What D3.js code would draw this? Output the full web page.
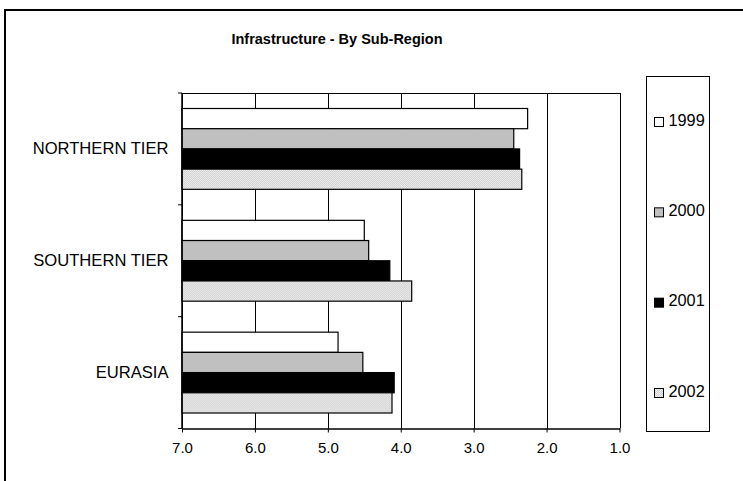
<!DOCTYPE html>
<html>
<head>
<meta charset="utf-8">
<script src="https://cdn.jsdelivr.net/npm/d3@7"></script>
<style>
  html, body { margin: 0; padding: 0; background: #fff; }
  svg { display: block; font-family: Arial, "Liberation Sans", sans-serif; }
</style>
</head>
<body>
<svg id="chart" width="743" height="481"></svg>
<script>
// Infrastructure scores by sub-region (lower is better; axis runs 7.0 -> 1.0)
const regions = ["NORTHERN TIER", "SOUTHERN TIER", "EURASIA"];
const years = ["1999", "2000", "2001", "2002"];
const scores1999 = [2.26, 4.50, 4.86];
const scores2000 = [2.45, 4.44, 4.52];
const scores2001 = [2.37, 4.15, 4.09];
const scores2002 = [2.34, 3.85, 4.12];
const tickValues = [7.0, 6.0, 5.0, 4.0, 3.0, 2.0, 1.0];

const seriesValues = [scores1999, scores2000, scores2001, scores2002];
const fills = ["#ffffff", "#c0c0c0", "#000000", "url(#dots)"];

const svg = d3.select("#chart");

// dithered light-grey fill used for 2002
const defs = svg.append("defs");
const pat = defs.append("pattern")
  .attr("id", "dots").attr("width", 2).attr("height", 2)
  .attr("patternUnits", "userSpaceOnUse");
pat.append("rect").attr("width", 2).attr("height", 2).attr("fill", "#ebebeb");
pat.append("rect").attr("width", 1).attr("height", 1).attr("fill", "#d2d2d2");
pat.append("rect").attr("x", 1).attr("y", 1).attr("width", 1).attr("height", 1).attr("fill", "#d2d2d2");

// outer chart frame
svg.append("rect")
  .attr("x", 5).attr("y", 10).attr("width", 800).attr("height", 520)
  .attr("fill", "none").attr("stroke", "#000").attr("stroke-width", 2);

// title
svg.append("text")
  .attr("x", 337).attr("y", 43.5)
  .attr("text-anchor", "middle")
  .attr("font-size", "14.5px").attr("font-weight", "bold")
  .text("Infrastructure - By Sub-Region");

const plot = { left: 182, right: 619.5, top: 93, bottom: 428.5 };

const x = d3.scaleLinear().domain([7, 1]).range([plot.left, plot.right]);
const y = d3.scaleBand().domain(regions).range([plot.top, plot.bottom]).padding(0);
const pad = 15.5;
const ySub = d3.scaleBand().domain(years).range([pad, y.bandwidth() - pad]).padding(0);

// vertical gridlines
svg.append("g")
  .selectAll("line")
  .data(tickValues)
  .join("line")
  .attr("x1", d => Math.round(x(d)) + 0.5).attr("x2", d => Math.round(x(d)) + 0.5)
  .attr("y1", plot.top).attr("y2", plot.bottom)
  .attr("stroke", "#000").attr("stroke-width", 1);

// top border of plot area
svg.append("line")
  .attr("x1", plot.left).attr("x2", Math.round(plot.right) + 0.5)
  .attr("y1", plot.top + 0.5).attr("y2", plot.top + 0.5)
  .attr("stroke", "#000").attr("stroke-width", 1);

// bars
const groups = svg.append("g")
  .selectAll("g")
  .data(regions)
  .join("g")
  .attr("transform", d => `translate(0,${y(d)})`);

groups.selectAll("rect")
  .data((r, i) => years.map((yr, s) => ({ year: yr, s, value: seriesValues[s][i] })))
  .join("rect")
  .attr("x", x(7))
  .attr("y", d => ySub(d.year))
  .attr("width", d => x(d.value) - x(7))
  .attr("height", ySub.bandwidth())
  .attr("fill", d => fills[d.s])
  .attr("stroke", "#000").attr("stroke-width", 1.2);

// bottom axis
const xAxis = d3.axisBottom(x)
  .tickValues(tickValues)
  .tickFormat(d3.format(".1f"))
  .tickSizeInner(4).tickSizeOuter(0).tickPadding(10);
const gx = svg.append("g")
  .attr("transform", `translate(0,${plot.bottom})`)
  .call(xAxis);
gx.select(".domain").attr("stroke", "#000").attr("stroke-width", 1.5);
gx.selectAll(".tick line").attr("stroke", "#000");
gx.selectAll("text").attr("font-size", "15px").attr("font-family", "Arial, 'Liberation Sans', sans-serif").attr("fill", "#000");

// left axis: line with ticks at category boundaries
svg.append("line")
  .attr("x1", plot.left).attr("x2", plot.left)
  .attr("y1", plot.top).attr("y2", plot.bottom)
  .attr("stroke", "#000").attr("stroke-width", 1.5);
const boundaries = regions.map(r => y(r)).concat([plot.bottom]);
svg.append("g")
  .selectAll("line")
  .data(boundaries)
  .join("line")
  .attr("x1", plot.left - 4).attr("x2", plot.left)
  .attr("y1", d => d).attr("y2", d => d)
  .attr("stroke", "#000").attr("stroke-width", 1);

// category labels
svg.append("g")
  .selectAll("text")
  .data(regions)
  .join("text")
  .attr("x", 168.5)
  .attr("y", d => y(d) + y.bandwidth() / 2 + 5)
  .attr("text-anchor", "end")
  .attr("font-size", "16.6px")
  .text(d => d);

// legend
svg.append("rect")
  .attr("x", 646.5).attr("y", 76.5).attr("width", 63).attr("height", 355)
  .attr("fill", "#fff").attr("stroke", "#000").attr("stroke-width", 1);

const ly = d3.scalePoint().domain(years).range([122, 393]);
const items = svg.append("g")
  .selectAll("g")
  .data(years)
  .join("g")
  .attr("transform", d => `translate(0,${ly(d)})`);
items.append("rect")
  .attr("x", 654.5).attr("y", -4.5).attr("width", 9).attr("height", 9)
  .attr("fill", (d, i) => fills[i])
  .attr("stroke", "#000").attr("stroke-width", 1);
items.append("text")
  .attr("x", 668.5).attr("y", 3.5)
  .attr("font-size", "16.3px")
  .text(d => d);
</script>
</body>
</html>
